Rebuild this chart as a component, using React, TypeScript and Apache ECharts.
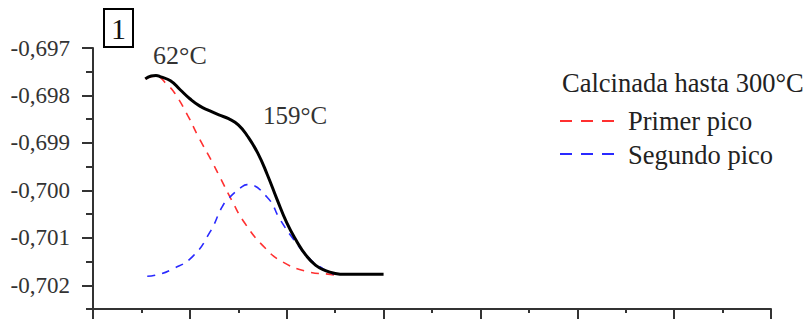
import React, { useEffect, useRef } from "react";
import * as echarts from "echarts";

// Temperature (°C) and signal values
const blackT = [54, 60, 65, 70, 80, 90, 100, 110, 120, 130, 140, 150, 160, 170, 180, 190, 200, 210, 220, 230, 240, 250, 260, 270, 280, 290, 300];
const blackV = [-0.69765, -0.69759, -0.69758, -0.69761, -0.69769, -0.69788, -0.69807, -0.69822, -0.69832, -0.69841, -0.69849, -0.69862, -0.69887, -0.69921, -0.69967, -0.70019, -0.70068, -0.70106, -0.70137, -0.70158, -0.70169, -0.70175, -0.70177, -0.70177, -0.70177, -0.70177, -0.70177];

const redT = [54, 64, 77, 85, 98, 108, 123, 131, 143, 157, 178, 196, 221, 245, 252];
const redV = [-0.69765, -0.69759, -0.69778, -0.69797, -0.69843, -0.69884, -0.69940, -0.69972, -0.70020, -0.70070, -0.70122, -0.70151, -0.70171, -0.70177, -0.70179];

const blueT = [56, 64, 82, 103, 121, 133, 139, 154, 159, 180, 193, 207, 224, 238, 248];
const blueV = [-0.70181, -0.70179, -0.70166, -0.70139, -0.70087, -0.70036, -0.70019, -0.69992, -0.69988, -0.70015, -0.70061, -0.70103, -0.70145, -0.70166, -0.70177];

const yMajorTicks = [-0.702, -0.701, -0.7, -0.699, -0.698, -0.697];
const seriesNames = ["Calcinada hasta 300°C", "Primer pico", "Segundo pico"];
const peakLabels = ["62°C", "159°C"];
const panelLabel = "1";

const zip = (xs: number[], ys: number[]) => xs.map((x, i) => [x, ys[i]]);

export default function App() {
  const ref = useRef<HTMLDivElement>(null);
  useEffect(() => {
    document.body.style.margin = "0";
    const chart = echarts.init(ref.current!, null, { renderer: "svg" });
    const font = "Liberation Serif";
    const axisColor = "#333";
    chart.setOption({
      animation: false,
      grid: { left: 93, right: 37, top: 48, bottom: 15, containLabel: false },
      xAxis: {
        type: "value",
        min: 0,
        max: 700,
        interval: 100,
        axisLine: { show: true, lineStyle: { color: axisColor, width: 2 } },
        axisTick: { show: true, length: 10, lineStyle: { color: axisColor, width: 2 } },
        minorTick: { show: true, splitNumber: 2, length: 4, lineStyle: { color: axisColor, width: 2 } },
        axisLabel: { show: false },
        splitLine: { show: false },
      },
      yAxis: [
        {
          type: "value",
          min: -0.7025,
          max: -0.697,
          axisLine: { show: true, onZero: false, lineStyle: { color: axisColor, width: 2 } },
          axisTick: { show: true, length: 11, customValues: yMajorTicks, lineStyle: { color: axisColor, width: 2 } },
          axisLabel: {
            customValues: yMajorTicks,
            margin: 23,
            color: "#333",
            fontFamily: font,
            fontSize: 23,
            formatter: (v: number) => v.toFixed(3).replace(".", ","),
          },
          splitLine: { show: false },
        },
        {
          type: "value",
          min: -0.7025,
          max: -0.697,
          interval: 0.0005,
          position: "left",
          axisLine: { show: false },
          axisTick: { show: true, length: 7, lineStyle: { color: axisColor, width: 2 } },
          axisLabel: { show: false },
          splitLine: { show: false },
        },
      ],
      series: [
        {
          name: seriesNames[0],
          type: "line",
          data: zip(blackT, blackV),
          smooth: true,
          showSymbol: false,
          lineStyle: { color: "#000", width: 3 },
          z: 5,
        },
        {
          name: seriesNames[1],
          type: "line",
          data: zip(redT, redV),
          smooth: true,
          showSymbol: false,
          lineStyle: { color: "#ff3030", width: 1.6, type: [8, 7] },
        },
        {
          name: seriesNames[2],
          type: "line",
          data: zip(blueT, blueV),
          smooth: true,
          showSymbol: false,
          lineStyle: { color: "#2a2aff", width: 1.6, type: [8, 7] },
        },
      ],
      graphic: [
        { type: "rect", shape: { x: 104, y: 9, width: 29, height: 38 }, style: { fill: "#fff", stroke: "#000", lineWidth: 2 } },
        { type: "text", x: 118.5, y: 28, style: { text: panelLabel, font: `30px "${font}"`, fill: "#111", align: "center", verticalAlign: "middle" } },
        { type: "text", x: 153, y: 55, style: { text: peakLabels[0], font: `26px "${font}"`, fill: "#333", verticalAlign: "middle" } },
        { type: "text", x: 263, y: 115, style: { text: peakLabels[1], font: `25px "${font}"`, fill: "#333", verticalAlign: "middle" } },
        { type: "text", x: 562, y: 83, style: { text: seriesNames[0], font: `26.5px "${font}"`, fill: "#222", verticalAlign: "middle" } },
        { type: "line", shape: { x1: 560, y1: 121, x2: 617, y2: 121 }, style: { stroke: "#ff3030", lineWidth: 2, lineDash: [12, 9] } },
        { type: "text", x: 628, y: 121, style: { text: seriesNames[1], font: `26.5px "${font}"`, fill: "#222", verticalAlign: "middle" } },
        { type: "line", shape: { x1: 560, y1: 154, x2: 617, y2: 154 }, style: { stroke: "#2a2aff", lineWidth: 2, lineDash: [12, 9] } },
        { type: "text", x: 628, y: 155, style: { text: seriesNames[2], font: `26.5px "${font}"`, fill: "#222", verticalAlign: "middle" } },
      ],
    });
    return () => chart.dispose();
  }, []);
  return <div ref={ref} style={{ width: 808, height: 324 }} />;
}
